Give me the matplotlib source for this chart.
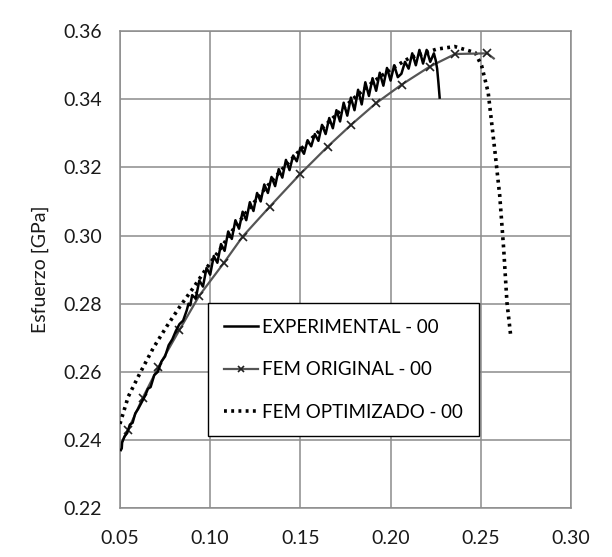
import matplotlib
matplotlib.use("Agg")
import matplotlib.pyplot as plt

plt.rcParams['font.family'] = ['Lato', 'DejaVu Sans']

# --- data ---
exp_x = [0.0505, 0.0510, 0.0512, 0.0525, 0.0540, 0.0555, 0.0570, 0.0585, 0.0600, 0.0620,
         0.0640, 0.0655, 0.0670, 0.0690, 0.0710, 0.0730, 0.0750, 0.0770, 0.0790, 0.0810,
         0.0830, 0.0850, 0.0870, 0.0880, 0.0890,
         0.090, 0.092, 0.094, 0.096, 0.098, 0.100, 0.102, 0.104, 0.106, 0.108,
         0.110, 0.112, 0.114, 0.116, 0.118, 0.120, 0.122, 0.124, 0.126, 0.128,
         0.130, 0.132, 0.134, 0.136, 0.138, 0.140, 0.142, 0.144, 0.146, 0.148,
         0.150, 0.152, 0.154, 0.156, 0.158, 0.160, 0.162, 0.164, 0.166, 0.168,
         0.170, 0.172, 0.174, 0.176, 0.178, 0.180, 0.182, 0.184, 0.186, 0.188,
         0.190, 0.192, 0.194, 0.196, 0.198, 0.200, 0.202, 0.204, 0.206, 0.208,
         0.210, 0.212, 0.214, 0.216, 0.218, 0.220, 0.222, 0.224,
         0.2250, 0.2258, 0.2265, 0.2272]
exp_y = [0.2370, 0.2375, 0.2392, 0.2410, 0.2420, 0.2445, 0.2450, 0.2478, 0.2490, 0.2510,
         0.2530, 0.2550, 0.2555, 0.2590, 0.2600, 0.2630, 0.2645, 0.2678, 0.2695, 0.2720,
         0.2740, 0.2750, 0.2780, 0.2800, 0.2795,
         0.2825, 0.2815, 0.2868, 0.2850, 0.2905, 0.2885, 0.2940, 0.2920, 0.2975, 0.2955,
         0.3012, 0.2990, 0.3045, 0.3020, 0.3070, 0.3045, 0.3098, 0.3072, 0.3125, 0.3100,
         0.3150, 0.3125, 0.3172, 0.3145, 0.3195, 0.3170, 0.3222, 0.3192, 0.3235, 0.3218,
         0.3258, 0.3240, 0.3280, 0.3262, 0.3298, 0.3278, 0.3325, 0.3298, 0.3345, 0.3315,
         0.3368, 0.3335, 0.3390, 0.3352, 0.3405, 0.3368, 0.3428, 0.3385, 0.3450, 0.3410,
         0.3462, 0.3425, 0.3478, 0.3440, 0.3492, 0.3455, 0.3500, 0.3465, 0.3475, 0.3510,
         0.3490, 0.3535, 0.3500, 0.3545, 0.3505, 0.3545, 0.3510, 0.3535,
         0.3515, 0.3490, 0.3450, 0.3405]

fem_x = [0.0512, 0.0544, 0.0625, 0.0713, 0.0829, 0.0939, 0.1075, 0.1180, 0.1329, 0.1498,
         0.1651, 0.1779, 0.1918, 0.2061, 0.2217, 0.2358, 0.2535, 0.2572]
fem_y = [0.2395, 0.2428, 0.2522, 0.2614, 0.2722, 0.2823, 0.2919, 0.2997, 0.3084, 0.3180,
         0.3261, 0.3324, 0.3388, 0.3443, 0.3496, 0.3533, 0.3535, 0.3520]

opt_x = [0.0500, 0.0546, 0.0611, 0.0685, 0.0759, 0.0833, 0.0906, 0.0981, 0.1054, 0.1128,
         0.1200, 0.1300, 0.1400, 0.1500, 0.1600, 0.1700, 0.1800, 0.1900, 0.2000, 0.2100,
         0.2253, 0.2355, 0.2469, 0.2505, 0.2541, 0.2579, 0.2605, 0.2627, 0.2645, 0.2667]
opt_y = [0.2447, 0.2527, 0.2596, 0.2670, 0.2733, 0.2792, 0.2846, 0.2905, 0.2959, 0.3018,
         0.3068, 0.3135, 0.3195, 0.3252, 0.3305, 0.3355, 0.3405, 0.3450, 0.3488, 0.3520,
         0.3547, 0.3555, 0.3537, 0.3498, 0.3420, 0.3244, 0.3117, 0.2960, 0.2804, 0.2700]

x_ticks = [0.05, 0.10, 0.15, 0.20, 0.25, 0.30]
y_ticks = [0.22, 0.24, 0.26, 0.28, 0.30, 0.32, 0.34, 0.36]

labels = ['EXPERIMENTAL - 00', 'FEM ORIGINAL - 00', 'FEM OPTIMIZADO - 00']

fig = plt.figure(figsize=(6.12, 5.57), dpi=100)
ax = fig.add_axes([0.196, 0.088, 0.737, 0.856])

grid_c = '#8c8c8c'
ax.plot(opt_x, opt_y, color='black', linestyle=(0, (0.8, 1.2)), linewidth=2.6,
        label=labels[2], zorder=3)
ax.plot(fem_x, fem_y, color='#555555', linewidth=1.6, marker='x', markersize=6,
        markeredgewidth=1.2, markeredgecolor='#222222', markevery=list(range(1, len(fem_x) - 1)),
        label=labels[1], zorder=4)
ax.plot(exp_x, exp_y, color='black', linewidth=1.8, label=labels[0], zorder=5)

ax.set_xlim(0.05, 0.30)
ax.set_ylim(0.22, 0.36)
ax.set_xticks(x_ticks)
ax.set_yticks(y_ticks)
ax.set_xticklabels([f'{v:.2f}' for v in x_ticks])
ax.set_yticklabels([f'{v:.2f}' for v in y_ticks])
ax.tick_params(length=0, labelsize=14, colors='#1a1a1a')
ax.tick_params(axis='y', pad=13)
ax.tick_params(axis='x', pad=16)
ax.grid(True, color=grid_c, linewidth=1.1)
ax.set_axisbelow(True)
for s in ax.spines.values():
    s.set_color(grid_c)
    s.set_linewidth(1.1)
ax.set_ylabel('Esfuerzo [GPa]', fontsize=14, labelpad=10, color='#1a1a1a')

handles, labs = ax.get_legend_handles_labels()
order = [labs.index(l) for l in labels]
leg = ax.legend([handles[i] for i in order], [labs[i] for i in order],
                loc='upper left', bbox_to_anchor=(0.195, 0.430), fontsize=13.5,
                frameon=True, fancybox=False, edgecolor='black', framealpha=1,
                handlelength=1.8, handletextpad=0.25, labelspacing=1.35,
                borderpad=0.85, borderaxespad=0, markerscale=0.8)
leg.get_frame().set_linewidth(1.0)
leg.set_zorder(10)

fig.savefig('out.png', dpi=100)
